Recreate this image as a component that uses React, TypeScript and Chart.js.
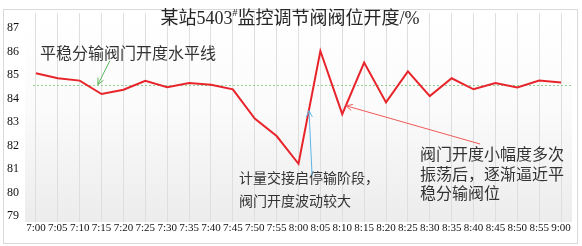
import React, { useEffect, useRef } from "react";
import { Chart, registerables } from "chart.js";

Chart.register(...registerables);

// Sampling times, every 5 minutes
const times = [
  "7:00", "7:05", "7:10", "7:15", "7:20", "7:25", "7:30", "7:35", "7:40", "7:45",
  "7:50", "7:55", "8:00", "8:05", "8:10", "8:15", "8:20", "8:25", "8:30", "8:35",
  "8:40", "8:45", "8:50", "8:55", "9:00",
];

// Valve position opening (%)
const valvePct = [
  85.08, 84.87, 84.77, 84.2, 84.38, 84.76, 84.49, 84.67, 84.59, 84.4,
  83.15, 82.41, 81.23, 86.03, 83.34, 85.54, 83.84, 85.16, 84.11, 84.87,
  84.4, 84.67, 84.48, 84.77, 84.69,
];

// Steady delivery valve opening level (%)
const steadyLevel = 84.6;

const yTicks = [79, 80, 81, 82, 83, 84, 85, 86, 87];
const yMin = 78.75;
const yMax = 87.64;

const titleMain = "某站5403";
const titleSup = "#";
const titleRest = "监控调节阀阀位开度/%";

// Annotation texts, anchored in (category index, value) space
const notes = [
  { lines: ["平稳分输阀门开度水平线"], at: [0.18, 85.96], size: 16, gap: 0 },
  { lines: ["计量交接启停输阶段，", "阀门开度波动较大"], at: [9.28, 80.65], size: 14, gap: 23.5 },
  { lines: ["阀门开度小幅度多次", "振荡后，逐渐逼近平", "稳分输阀位"], at: [17.55, 81.64], size: 16, gap: 19.4 },
];

// Arrows: [from index, from value, to index, to value]
const arrows = [
  { from: [3.38, 85.62], to: [2.83, 84.6], color: "#5cb85c" },
  { from: [12.62, 80.74], to: [12.48, 83.49], color: "#5fb4e6" },
  { from: [20.3, 82.07], to: [14.17, 83.7], color: "#f05a5a" },
];

const CJK = '"Noto Sans CJK SC", sans-serif';
const SERIF = '"Liberation Serif", "Noto Sans CJK SC", serif';

function drawArrow(ctx: CanvasRenderingContext2D, x1: number, y1: number, x2: number, y2: number, color: string) {
  const ang = Math.atan2(y2 - y1, x2 - x1);
  const len = 7;
  const spread = 0.45;
  ctx.save();
  ctx.strokeStyle = color;
  ctx.lineWidth = 1;
  ctx.beginPath();
  ctx.moveTo(x1, y1);
  ctx.lineTo(x2, y2);
  ctx.moveTo(x2 - len * Math.cos(ang - spread), y2 - len * Math.sin(ang - spread));
  ctx.lineTo(x2, y2);
  ctx.lineTo(x2 - len * Math.cos(ang + spread), y2 - len * Math.sin(ang + spread));
  ctx.stroke();
  ctx.restore();
}

const decorPlugin = {
  id: "decor",
  beforeDraw(chart: any) {
    const { ctx, chartArea } = chart;
    ctx.save();
    ctx.fillStyle = "#ffffff";
    ctx.fillRect(0, 0, chart.width, chart.height);
    // outer frame
    ctx.strokeStyle = "#d9d9d9";
    ctx.lineWidth = 1;
    ctx.strokeRect(3.5, 9.5, chart.width - 8, chart.height - 12);
    // plot background
    const g = ctx.createLinearGradient(0, chartArea.top, 0, chartArea.bottom);
    g.addColorStop(0, "#ffffff");
    g.addColorStop(0.45, "#fbfbfb");
    g.addColorStop(1, "#ececec");
    ctx.fillStyle = g;
    ctx.fillRect(chartArea.left, chartArea.top, chartArea.right - chartArea.left, chartArea.bottom - chartArea.top);
    ctx.restore();
  },
  beforeDatasetsDraw(chart: any) {
    const { ctx, chartArea, scales } = chart;
    const y = Math.round(scales.y.getPixelForValue(steadyLevel)) + 0.5;
    ctx.save();
    ctx.strokeStyle = "#8fd28f";
    ctx.lineWidth = 1;
    ctx.setLineDash([2, 2]);
    ctx.beginPath();
    ctx.moveTo(chartArea.left + 8, y);
    ctx.lineTo(chartArea.right + 1, y);
    ctx.stroke();
    ctx.restore();
  },
  afterDatasetsDraw(chart: any) {
    const { ctx, scales } = chart;
    const px = (i: number) => scales.x.getPixelForValue(i);
    const py = (v: number) => scales.y.getPixelForValue(v);

    ctx.save();
    ctx.fillStyle = "#333333";
    ctx.textAlign = "left";
    ctx.textBaseline = "middle";
    for (const n of notes) {
      ctx.font = `${n.size}px ${CJK}`;
      n.lines.forEach((line, k) => {
        ctx.fillText(line, px(n.at[0]), py(n.at[1]) + k * n.gap);
      });
    }
    ctx.restore();

    for (const a of arrows) {
      drawArrow(ctx, px(a.from[0]), py(a.from[1]), px(a.to[0]), py(a.to[1]), a.color);
    }

    // title with superscript mark
    ctx.save();
    ctx.fillStyle = "#262626";
    ctx.textBaseline = "alphabetic";
    ctx.textAlign = "left";
    const big = `18px ${SERIF}`;
    const small = `10px ${SERIF}`;
    ctx.font = big;
    const w1 = ctx.measureText(titleMain).width;
    const w3 = ctx.measureText(titleRest).width;
    ctx.font = small;
    const w2 = ctx.measureText(titleSup).width;
    const total = w1 + w2 + w3;
    let x = chart.width / 2 - 1 - total / 2;
    const base = 24;
    ctx.font = big;
    ctx.fillText(titleMain, x, base);
    x += w1;
    ctx.font = small;
    ctx.fillText(titleSup, x, base - 8);
    x += w2;
    ctx.font = big;
    ctx.fillText(titleRest, x, base);
    ctx.restore();
  },
};

export default function App() {
  const ref = useRef<HTMLCanvasElement | null>(null);

  useEffect(() => {
    document.body.style.margin = "0";
    const canvas = ref.current;
    if (!canvas) return;
    const chart = new Chart(canvas, {
      type: "line",
      data: {
        labels: times,
        datasets: [
          {
            data: valvePct,
            borderColor: "#e8242b",
            borderWidth: 2,
            pointRadius: 0,
            tension: 0,
            fill: false,
          },
        ],
      },
      options: {
        animation: false,
        responsive: false,
        devicePixelRatio: 1,
        layout: { padding: { top: 10, right: 10, bottom: 0, left: 0 } },
        plugins: {
          legend: { display: false },
          title: { display: false },
          tooltip: { enabled: false },
        },
        scales: {
          x: {
            type: "category",
            offset: true,
            grid: { display: true, offset: false, color: "#dedede", drawTicks: false, lineWidth: 1 },
            border: { display: false },
            ticks: {
              autoSkip: false,
              maxRotation: 0,
              minRotation: 0,
              padding: 0,
              color: "#111111",
              font: { family: '"Liberation Serif", serif', size: 11 },
            },
            afterFit(scale: any) {
              scale.height = 24;
            },
          },
          y: {
            type: "linear",
            min: yMin,
            max: yMax,
            grid: { display: false, drawTicks: false },
            border: { display: false },
            afterBuildTicks(scale: any) {
              scale.ticks = yTicks.map((v) => ({ value: v }));
            },
            ticks: {
              padding: 6,
              color: "#111111",
              font: { family: '"Liberation Serif", serif', size: 12 },
              callback: (v: any) => String(v),
            },
            afterFit(scale: any) {
              scale.width = 25;
            },
          },
        },
      },
      plugins: [decorPlugin],
    });
    return () => chart.destroy();
  }, []);

  return (
    <div style={{ position: "absolute", left: 0, top: 0, width: 582, height: 246 }}>
      <canvas ref={ref} width={582} height={246} style={{ width: 582, height: 246, display: "block" }} />
    </div>
  );
}
